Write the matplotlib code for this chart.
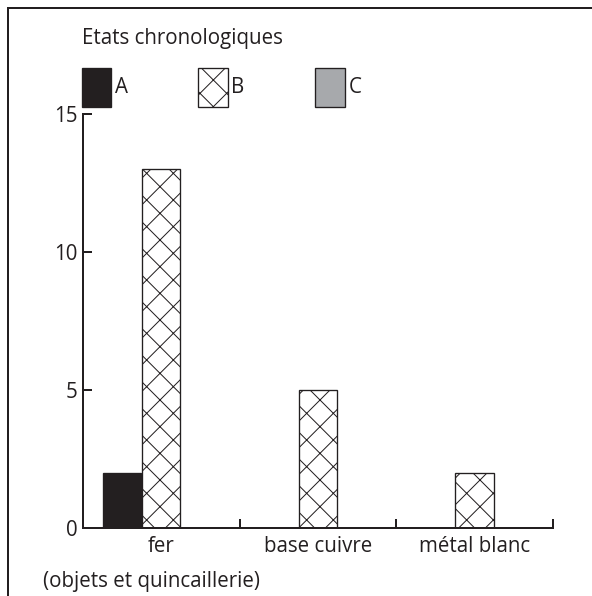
import matplotlib
matplotlib.use("Agg")
import matplotlib.pyplot as plt
import numpy as np

plt.rcParams['font.family'] = ['Open Sans', 'DejaVu Sans']
plt.rcParams['hatch.linewidth'] = 0.9
plt.rcParams['hatch.color'] = '#231f20'

categories = ['fer', 'base cuivre', 'métal blanc']
series = ['A', 'B', 'C']
val_a = [2, 0, 0]
val_b = [13, 5, 2]
val_c = [0, 0, 0]

ink = '#231f20'
fs = 18.5

# dpi 80 so that the 'x' hatch has a tighter period
fig = plt.figure(figsize=(7.4, 7.45), dpi=80)
ax = fig.add_axes([0.140, 0.114, 0.794, 0.695])

x = np.arange(len(categories))
w = 0.245
ba = ax.bar(x - 0.25, val_a, w, color=ink, edgecolor=ink, linewidth=1.2, label=series[0])
bb = ax.bar(x, val_b, w, color='white', edgecolor=ink, hatch='x', linewidth=1.2, label=series[1])
bc = ax.bar(x + 0.25, val_c, w, color='#a7a9ac', edgecolor=ink, linewidth=1.2, label=series[2])

ax.set_xlim(-0.5, 2.5)
ax.set_ylim(0, 15)
ax.spines['top'].set_visible(False)
ax.spines['right'].set_visible(False)
for s in ['left', 'bottom']:
    ax.spines[s].set_linewidth(1.8)
    ax.spines[s].set_color(ink)

ax.set_yticks([0, 5, 10, 15])
ax.tick_params(axis='y', direction='in', length=8, width=1.8, color=ink,
               labelsize=fs, pad=5, labelcolor=ink)
ax.set_xticks([0.5, 1.5, 2.5])
ax.set_xticklabels([])
ax.set_xticks(x, minor=True)
ax.set_xticklabels(categories, minor=True)
ax.tick_params(axis='x', which='major', direction='in', length=8, width=1.8, color=ink)
ax.tick_params(axis='x', which='minor', length=0, labelsize=fs, pad=7, labelcolor=ink)

ax.annotate('(objets et quincaillerie)', xy=(0, 0), xycoords=('data', 'axes fraction'),
            xytext=(-10, -43), textcoords='offset pixels', ha='center', va='top',
            fontsize=fs, color=ink)

leg = fig.legend(handles=[ba, bb, bc], labels=series, loc='upper left',
                 bbox_to_anchor=(0.124, 0.967), ncol=3, frameon=False,
                 title='Etats chronologiques', title_fontsize=fs, fontsize=fs,
                 handlelength=1.45, handleheight=2.53, handletextpad=0.15,
                 columnspacing=3.45, labelspacing=0.92, alignment='left', borderaxespad=0)
for t in leg.get_texts():
    t.set_color(ink)
leg.get_title().set_color(ink)

# frame around figure: top and left lines only
fig.add_artist(plt.Line2D([0.0135, 0.0135], [0, 0.9865], transform=fig.transFigure,
                          color=ink, linewidth=1.8))
fig.add_artist(plt.Line2D([0.0135, 1], [0.9865, 0.9865], transform=fig.transFigure,
                          color=ink, linewidth=1.8))

fig.savefig('out.png', dpi=80)
